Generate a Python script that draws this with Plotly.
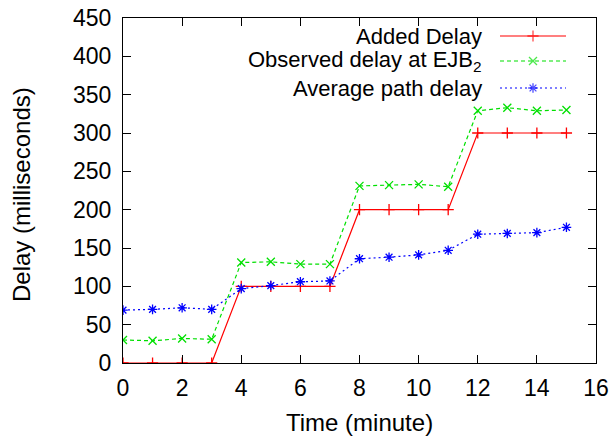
import plotly.graph_objects as go

minutes = list(range(16))
added_delay = [0, 0, 0, 0, 100, 100, 100, 100, 200, 200, 200, 200, 300, 300, 300, 300]
observed_delay = [30, 29, 32, 31, 131, 132, 129, 129, 231, 232, 233, 230, 329, 333, 329, 330]
avg_path_delay = [69, 70, 72, 70, 97, 101, 106, 107, 136, 138, 141, 147, 168, 169, 170, 177]

series_names = ["Added Delay", "Observed delay at EJB<sub>2</sub>", "Average path delay"]
colors = ["#ff0000", "#00e000", "#0000ff"]
dashes = ["solid", "4px,3px", "2px,3px"]
symbols = ["cross-thin-open", "x-thin-open", "asterisk-open"]
series = [added_delay, observed_delay, avg_path_delay]

W, H = 616, 438
L, R, T, B = 123, 20, 18, 75
FONT = "Liberation Sans, Arial, sans-serif"
TICK_SIZE = 23
TEXT_SIZE = 24
LEG_SIZE = 22

fig = go.Figure()
for vals, c, d, s in zip(series, colors, dashes, symbols):
    fig.add_trace(go.Scatter(
        x=minutes, y=vals, mode="lines+markers",
        line=dict(color=c, width=1.2, dash=d),
        marker=dict(symbol=s, size=8, color=c, line=dict(color=c, width=1.3)),
        showlegend=False, xaxis="x", yaxis="y"))

# manual gnuplot-style legend (text right-aligned, sample to the right)
pw = W - L - R
ph = H - T - B
leg_y_px = [36, 61, 88]
x0_px, x1_px, xm_px, xt_px = 500, 566, 533, 484
for name, c, d, s, ypx in zip(series_names, colors, dashes, symbols, leg_y_px):
    yy = 1 - (ypx - T) / ph
    xa, xb, xm = (x0_px - L) / pw, (x1_px - L) / pw, (xm_px - L) / pw
    fig.add_trace(go.Scatter(
        x=[xa, xm, xb], y=[yy, yy, yy], mode="lines+markers",
        line=dict(color=c, width=1.2, dash=d),
        marker=dict(symbol=s, size=[0, 8, 0], color=c, line=dict(color=c, width=1.3)),
        showlegend=False, xaxis="x2", yaxis="y2", hoverinfo="skip"))
    fig.add_annotation(x=(xt_px - L) / pw, y=yy, xref="x2", yref="y2", text=name,
                       showarrow=False, xanchor="right", yanchor="middle",
                       font=dict(family=FONT, size=LEG_SIZE, color="black"))

# axis titles placed as annotations for exact positioning
fig.add_annotation(x=(359 - L) / pw, y=(363 - 423) / ph, xref="paper", yref="paper",
                   text="Time (minute)", showarrow=False, xanchor="center", yanchor="middle",
                   font=dict(family=FONT, size=TEXT_SIZE, color="black"))
fig.add_annotation(x=(22 - L) / pw, y=(363 - 195) / ph, xref="paper", yref="paper",
                   text="Delay (milliseconds)", showarrow=False, textangle=-90,
                   xanchor="center", yanchor="middle",
                   font=dict(family=FONT, size=TEXT_SIZE, color="black"))

axis_common = dict(showgrid=False, zeroline=False, ticks="inside", ticklen=8,
                   tickwidth=1, tickcolor="black", linecolor="black", linewidth=1,
                   showline=True, mirror="ticks", automargin=False,
                   tickfont=dict(family=FONT, size=TICK_SIZE, color="black"))

fig.update_layout(
    template="none",
    width=W, height=H, margin=dict(l=L, r=R, t=T, b=B, autoexpand=False),
    plot_bgcolor="white", paper_bgcolor="white",
    xaxis=dict(range=[0, 16], dtick=2, tick0=0, ticklabelstandoff=4, **axis_common),
    yaxis=dict(range=[0, 450], dtick=50, tick0=0, ticklabelstandoff=6, **axis_common),
    xaxis2=dict(range=[0, 1], overlaying="x", visible=False),
    yaxis2=dict(range=[0, 1], overlaying="y", visible=False),
)

fig.write_html("out.html", config={"displayModeBar": False},
               post_script="document.body.style.margin='0';")
